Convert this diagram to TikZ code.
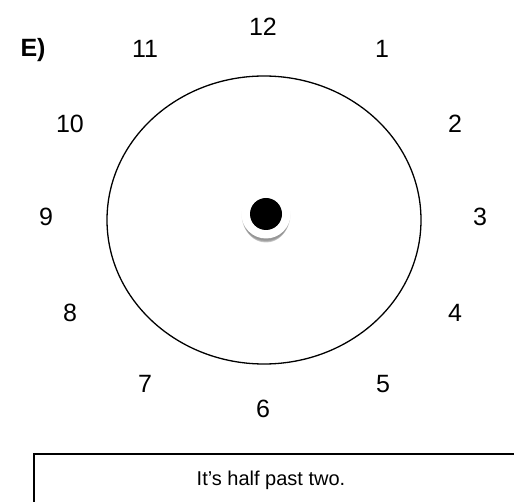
\documentclass[tikz,border=0pt]{standalone}
\usepackage{fontspec}
\setmainfont{Liberation Sans}
\begin{document}
\begin{tikzpicture}[x=1pt,y=-1pt,
  num/.style={font=\fontsize{25}{28}\selectfont, inner sep=0pt},
  face/.style={draw=black, line width=1.3pt},
  boxline/.style={draw=black, line width=1.4pt},
  shade/.style={fill=black, fill opacity=0.07}]
\useasboundingbox[fill=white] (0,0) rectangle (514,502);
\begin{scope}
\clip (0,0) rectangle (514,502);
% clock face
\draw[face] (264,220) ellipse [x radius=157, y radius=144];
% soft shadow under the centre dot
\foreach \d/\r in {2/24.5, 3/24, 4/23.5, 5/23, 6/22.5, 7/21.5, 8/20.5}
  \fill[shade] (266,214+\d) circle [radius=\r];
% centre dot
\node[circle, fill=white, minimum size=49pt, inner sep=0pt] (hub) at (266,214) {};
\node[circle, fill=black, minimum size=32pt, inner sep=0pt] (dot) at (266,214) {};
% numbers
\node[num] (n12) at (263,27) {12};
\node[num] (n1) at (382,49) {1};
\node[num] (n2) at (455,124) {2};
\node[num] (n3) at (480,217) {3};
\node[num] (n4) at (455,313) {4};
\node[num] (n5) at (383,384) {5};
\node[num] (n6) at (263,409) {6};
\node[num] (n7) at (145,384) {7};
\node[num] (n8) at (70,313) {8};
\node[num] (n9) at (46,217) {9};
\node[num] (n10) at (70,124) {10};
\node[num] (n11) at (145,49) {11};
\node[num, font=\fontsize{25}{28}\selectfont\bfseries] (lab) at (33,50) {E)};
% answer box
\draw[boxline] (34,520) -- (34,454) -- (530,454);
\node[font=\fontsize{20}{24}\selectfont, inner sep=0pt] (ans) at (271,480) {It’s half past two.};
\end{scope}
\end{tikzpicture}
\end{document}
